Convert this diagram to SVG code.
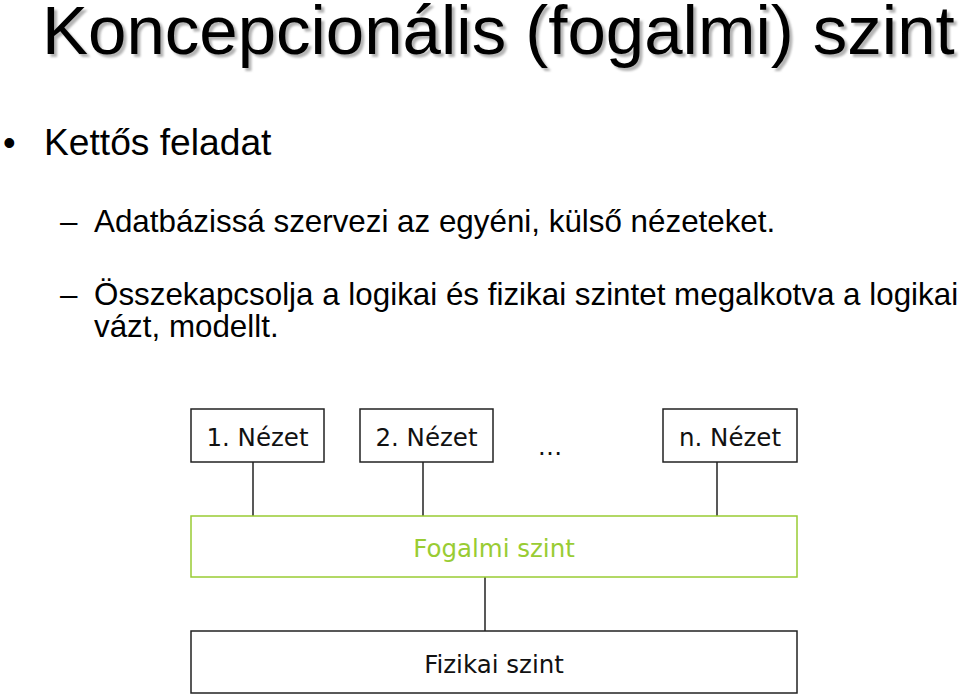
<svg xmlns="http://www.w3.org/2000/svg" width="960" height="697" viewBox="0 0 960 697">
<defs>
<filter id="blur" x="-5%" y="-20%" width="110%" height="140%"><feGaussianBlur stdDeviation="1"/></filter>
</defs>
<style>
.title{font-family:"Liberation Sans",Arial,sans-serif;font-size:69px}
.body{font-family:"Liberation Sans",Arial,sans-serif;fill:#000}
.box{fill:#fff;stroke:#222;stroke-width:1.5}
.gbox{fill:#fff;stroke:#99cc33;stroke-width:1.5}
.lbl{font-family:"DejaVu Sans",Tahoma,sans-serif;font-size:24.5px;text-anchor:middle;fill:#111}
.glbl{font-family:"DejaVu Sans",Tahoma,sans-serif;font-size:24.5px;text-anchor:middle;fill:#99cc33}
.conn line{stroke:#222;stroke-width:1.5}
</style>
<rect width="960" height="697" fill="#fff"/>
<g id="title">
<text class="title" x="45" y="57" fill="#b4b4b4" filter="url(#blur)">Koncepcionális (fogalmi) szint</text>
<text class="title" x="42" y="54" fill="#000">Koncepcionális (fogalmi) szint</text>
</g>
<g id="bullets" class="body">
<text x="3" y="155" font-size="36">•</text>
<text x="44" y="155" font-size="37.2">Kettős feladat</text>
<text x="60" y="232" font-size="31.35">–</text>
<text x="94" y="232" font-size="31.35">Adatbázissá szervezi az egyéni, külső nézeteket.</text>
<text x="60" y="305" font-size="31.35">–</text>
<text x="94" y="305" font-size="31.35">Összekapcsolja a logikai és fizikai szintet megalkotva a logikai</text>
<text x="94" y="337" font-size="31.35">vázt, modellt.</text>
</g>
<g class="conn" id="connectors">
<line x1="253" y1="462" x2="253" y2="516"/>
<line x1="423" y1="462" x2="423" y2="516"/>
<line x1="717" y1="462" x2="717" y2="516"/>
<line x1="485" y1="577" x2="485" y2="631"/>
</g>
<g id="nezet1">
<rect class="box" x="191" y="409" width="133" height="53"/>
<text class="lbl" x="257.5" y="446">1. Nézet</text>
</g>
<g id="nezet2">
<rect class="box" x="360" y="409" width="133" height="53"/>
<text class="lbl" x="426.5" y="446">2. Nézet</text>
</g>
<g id="ellipsis">
<text class="lbl" x="550" y="455">…</text>
</g>
<g id="nezetn">
<rect class="box" x="663" y="409" width="134" height="53"/>
<text class="lbl" x="730" y="446">n. Nézet</text>
</g>
<g id="fogalmi">
<rect class="gbox" x="191" y="516" width="606" height="61"/>
<text class="glbl" x="494" y="557">Fogalmi szint</text>
</g>
<g id="fizikai">
<rect class="box" x="191" y="631" width="606" height="62"/>
<text class="lbl" x="494" y="673">Fizikai szint</text>
</g>
</svg>
